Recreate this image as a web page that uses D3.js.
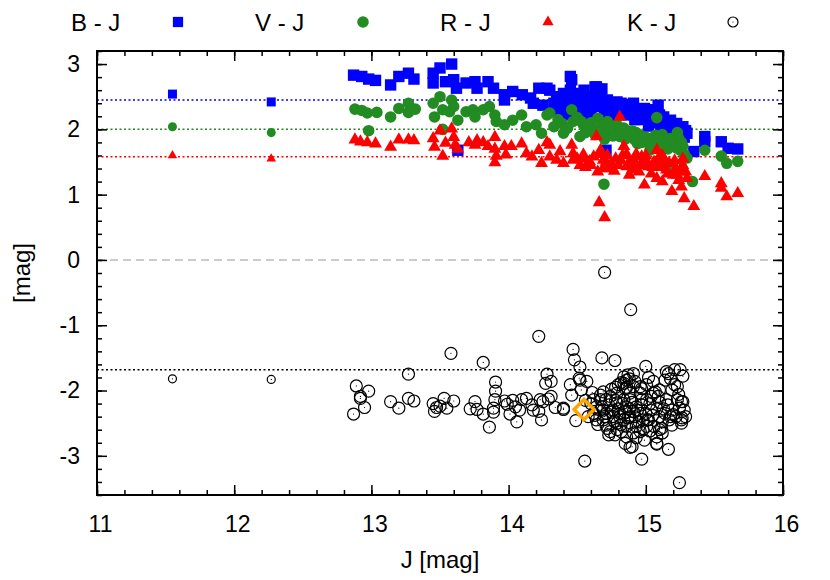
<!DOCTYPE html>
<meta charset="utf-8">
<style>
body { margin: 0; background: #fff; }
text { font-family: "Liberation Sans", Arial, sans-serif; fill: #000; }
</style>
<svg width="830" height="580"></svg>
<script src="https://d3js.org/d3.v7.min.js"></script>
<script>

// two bright reference stars
var refJ  = [11.55, 12.27],
    refBJ = [2.54, 2.42],
    refVJ = [2.04, 1.95],
    refRJ = [1.60, 1.55],
    refKJ = [-1.82, -1.83];

// B - J
var bjJ = [12.87,12.93,12.98,13.03,13.14,13.20,13.27,13.31,13.45,13.45,13.50,13.585,13.54,13.60,13.62,13.69,13.755,13.77,13.85,13.89,
  13.97,13.97,14.03,14.10,14.16,14.22,14.28,14.18,14.25,14.33,13.63,14.30,14.35,14.40,14.46,14.45,14.50,14.545,14.56,14.63,
  14.67,14.69,14.73,14.775,14.84,14.885,14.93,14.98,15.03,15.09,15.13,15.18,15.225,15.27,15.30,15.35,15.43,15.43,15.55,15.60,
  15.67,14.45,14.64,14.71,14.38,14.42,14.48,14.52,14.58,14.60,14.62,14.66,14.70,14.72,14.76,14.80,14.82,14.86,14.90,14.92,
  14.95,15.00,15.02,15.05,15.07,15.11,15.15,15.16,15.20,15.22,15.25,15.28,15.24,14.54,14.58,14.36,14.43,15.08,14.88,14.99,
  14.40,14.47,14.55,14.61,14.65,14.68,14.74,14.79,14.83,14.87,14.91,14.96,15.01,15.04,15.10,15.14,15.19,15.23,15.29];
var bjMag = [2.83,2.81,2.77,2.75,2.68,2.81,2.86,2.77,2.86,2.71,2.94,3.00,2.73,2.76,2.63,2.71,2.73,2.63,2.73,2.63,
  2.53,2.45,2.58,2.53,2.48,2.63,2.63,2.40,2.37,2.40,1.68,2.60,2.45,2.30,2.76,2.60,2.45,2.48,2.35,2.65,
  2.55,2.40,2.25,2.37,2.35,2.30,2.25,2.19,2.14,2.37,2.19,2.14,2.09,2.04,1.94,1.66,1.89,1.81,1.81,1.71,
  1.70,2.81,2.65,1.68,2.50,2.40,2.35,2.55,2.45,2.30,2.50,2.35,2.30,2.45,2.20,2.28,2.40,2.22,2.32,2.15,
  2.28,2.25,2.05,2.20,2.10,2.05,2.10,1.98,2.00,1.92,1.96,1.88,1.80,2.20,2.15,2.28,2.22,2.30,2.38,2.32,
  2.55,2.50,2.60,2.40,2.45,2.62,2.35,2.42,2.25,2.30,2.40,2.15,2.28,2.30,2.22,2.02,2.06,2.00,1.98];

// V - J
var vjJ = [12.88,12.93,12.97,13.04,12.98,13.14,13.20,13.27,13.27,13.32,13.45,13.46,13.50,13.52,13.52,13.585,13.57,13.60,13.63,13.69,
  13.74,13.755,13.815,13.86,13.90,13.91,13.97,14.03,14.095,14.13,14.20,14.24,14.28,14.33,14.30,14.39,14.40,14.46,14.47,14.52,
  14.545,14.605,14.65,14.69,14.74,14.79,14.81,14.87,14.92,14.96,15.02,15.07,15.08,15.14,15.19,15.24,15.27,15.30,15.34,15.43,
  15.55,15.59,15.67,14.695,15.03,15.17,14.36,14.43,14.50,14.56,14.60,14.63,14.67,14.72,14.76,14.78,14.84,14.85,14.90,14.94,
  14.99,15.05,15.10,15.12,15.16,15.21,15.25,15.28,15.23,14.70,14.53,
  14.58,14.62,14.68,14.73,14.77,14.82,14.88,14.93,14.97,15.00,15.04,15.09,15.13,15.18,15.22,15.26];
var vjMag = [2.31,2.29,2.25,2.26,1.98,2.19,2.32,2.40,2.26,2.31,2.40,2.19,2.50,2.30,2.00,2.45,2.27,2.35,2.14,2.27,
  2.30,2.19,2.30,2.35,2.22,2.12,2.07,2.14,2.22,2.04,2.07,1.94,2.22,2.04,2.25,2.09,1.94,2.30,2.12,1.89,
  2.07,1.99,2.17,2.09,1.97,2.07,1.89,1.94,1.84,1.91,1.79,1.91,2.18,1.84,1.76,1.86,1.74,1.56,1.20,1.68,
  1.59,1.48,1.51,1.16,1.68,1.42,2.15,2.02,2.18,1.95,2.10,1.92,2.02,2.12,1.90,2.00,2.02,1.85,1.98,1.78,
  1.86,1.84,1.78,1.92,1.70,1.80,1.68,1.62,1.95,1.85,2.12,
  2.05,2.00,1.95,2.05,1.92,1.98,1.90,1.95,1.80,1.88,1.76,1.85,1.74,1.86,1.72,1.80];

// R - J
var rjJ = [12.88,12.92,12.97,13.03,13.14,13.20,13.27,13.31,13.45,13.46,13.50,13.52,13.54,13.585,13.60,13.61,13.63,13.71,13.755,13.77,
  13.815,13.85,13.90,13.90,13.90,13.91,13.97,13.98,14.02,14.095,14.13,14.17,14.22,14.24,14.28,14.30,14.35,14.30,14.375,14.40,
  14.46,14.47,14.47,14.52,14.545,14.59,14.64,14.65,14.67,14.69,14.66,14.70,14.75,14.81,14.84,14.86,14.91,14.96,14.99,15.02,
  15.08,15.08,15.14,15.15,15.19,15.22,15.25,15.26,15.28,15.30,15.35,15.43,15.55,15.55,15.59,15.67,14.50,14.56,14.62,14.72,
  14.74,14.78,14.80,14.83,14.88,14.90,14.93,14.95,14.98,15.00,15.04,15.06,15.10,15.12,15.17,15.20,15.24,15.27,15.29,14.88,
  15.12,14.69,14.55,14.60,14.66,14.71,14.77,14.82,14.86,14.92,14.97,15.01,15.05,15.09,15.13,15.16,15.21,15.23,15.27];
var rjMag = [1.84,1.81,1.80,1.78,1.73,1.84,1.84,1.83,1.86,1.73,1.98,1.59,1.79,2.01,1.88,1.76,1.70,1.80,1.76,1.83,
  1.80,1.74,1.88,1.70,1.49,1.59,1.74,1.61,1.74,1.78,1.63,1.58,1.68,1.48,1.80,1.58,1.53,1.76,1.66,1.48,
  1.76,1.63,1.53,1.45,1.61,1.51,1.89,1.35,1.68,1.53,0.88,0.65,1.48,2.19,1.74,1.43,1.53,1.45,1.15,1.43,
  1.68,1.25,1.51,1.38,1.05,1.40,1.35,1.12,0.94,1.25,0.82,1.28,1.17,1.10,0.97,1.02,1.55,1.42,1.58,1.60,
  1.40,1.55,1.45,1.60,1.50,1.38,1.62,1.35,1.52,1.60,1.32,1.50,1.42,1.60,1.48,1.30,1.22,1.45,1.35,1.30,
  1.20,1.40,1.55,1.45,1.62,1.50,1.36,1.52,1.62,1.44,1.58,1.50,1.42,1.55,1.45,1.32,1.52,1.30,1.55];

// K - J
var kjJ = [12.87,12.89,12.92,12.92,12.95,12.98,13.14,13.20,13.27,13.27,13.31,13.45,13.46,13.475,13.50,13.53,13.55,13.58,13.60,13.72,
  13.755,13.77,13.815,13.815,13.86,13.89,13.89,13.905,13.905,13.90,13.97,13.99,14.01,14.05,14.06,14.03,14.095,14.08,14.13,14.17,
  14.18,14.22,14.23,14.24,14.22,14.25,14.28,14.27,14.31,14.29,14.31,14.34,14.40,14.45,14.70,14.89,14.47,14.48,14.52,14.68,
  14.775,15.00,14.515,14.46,14.40,14.49,14.555,14.97,15.245,15.165,14.85,14.885,15.08,15.15,15.21,15.25,15.23,15.26,15.26,15.26,
  15.18,15.10,14.57,14.52,14.53,14.62,14.67,14.69,14.71,14.69,14.64,14.71,14.76,14.80,14.84,14.87,14.91,14.85,14.84,14.79,
  14.74,14.775,14.90,14.885,14.93,14.96,14.97,15.005,15.055,15.07,15.09,15.04,15.02,14.96,14.99,15.08,15.115,15.08,15.10,15.14,
  15.15,15.19,15.14,15.165,15.21,15.23,15.27,15.245,15.265,15.19,15.20,14.666,14.715,14.763,14.81,14.86,14.91,14.96,14.98,14.885,
  14.84,14.79,14.86,14.93,15.006,15.04,14.62,14.67,14.74,14.79,14.84,14.86,14.91,14.885,14.96,15.055,15.10,15.006,14.91,14.86,
  14.82,14.79,14.64,14.69,
  14.60,14.63,14.65,14.68,14.70,14.72,14.73,14.75,14.77,14.78,14.80,14.81,14.82,14.83,14.85,14.87,14.88,14.89,14.90,14.92,
  14.94,14.95,14.97,14.98,15.00,15.01,15.03,15.05,15.06,15.08,15.10,15.12,15.13,15.16,15.17,15.19,15.22,15.24,15.28,15.29,
  14.82,14.86,14.88,14.92,14.78,14.75,14.97,15.02,15.18,15.27,14.58,14.56,14.61,14.73,14.93,15.03,15.12];
var kjMag = [-2.36,-1.93,-2.12,-2.09,-2.26,-2.01,-2.17,-2.27,-1.75,-2.12,-2.16,-2.20,-2.32,-2.26,-2.24,-2.12,-2.27,-1.43,-2.16,-2.28,
  -2.17,-2.29,-2.36,-1.57,-2.56,-2.27,-2.33,-1.87,-2.01,-2.14,-2.16,-2.21,-2.36,-2.25,-2.48,-2.15,-2.14,-2.30,-2.12,-2.22,
  -2.30,-2.32,-2.14,-2.45,-1.17,-2.17,-1.75,-1.89,-1.86,-2.13,-2.09,-2.26,-2.29,-1.91,-0.19,-0.76,-1.37,-1.53,-1.64,-1.50,
  -1.54,-1.63,-1.81,-2.07,-2.27,-2.46,-3.08,-3.05,-3.41,-2.90,-2.81,-2.87,-2.82,-1.71,-1.68,-1.68,-1.94,-2.17,-2.45,-2.50,
  -2.40,-2.60,-1.86,-1.84,-1.99,-2.14,-2.07,-2.02,-2.14,-2.30,-2.45,-2.53,-2.30,-1.91,-1.79,-1.76,-1.74,-1.97,-2.14,-2.19,
  -2.63,-2.68,-2.86,-2.40,-2.25,-2.04,-2.14,-1.91,-1.86,-2.02,-2.09,-2.30,-2.45,-2.63,-2.76,-2.71,-2.58,-2.81,-2.40,-2.35,
  -2.14,-1.99,-1.84,-1.74,-1.91,-2.14,-2.17,-2.27,-2.42,-2.53,-2.37,-2.30,-2.35,-2.40,-2.35,-2.25,-2.32,-2.35,-2.45,-2.14,
  -2.45,-2.50,-2.55,-2.55,-2.14,-2.09,-2.35,-2.14,-2.09,-2.04,-1.89,-1.84,-1.94,-2.04,-1.94,-2.04,-1.99,-2.55,-2.65,-2.71,
  -2.63,-2.60,-2.25,-2.45,
  -2.20,-2.38,-2.52,-2.25,-2.40,-2.58,-2.22,-2.33,-2.47,-2.15,-2.28,-2.40,-2.52,-2.20,-2.33,-2.42,-2.28,-2.50,-2.18,-2.40,
  -2.30,-2.48,-2.22,-2.60,-2.35,-2.45,-2.20,-2.38,-2.55,-2.28,-2.18,-2.48,-2.28,-2.22,-2.45,-2.30,-2.40,-2.06,-2.30,-2.40,
  -1.88,-1.95,-1.82,-1.86,-1.95,-1.98,-1.97,-1.80,-1.82,-1.78,-2.40,-2.15,-2.03,-2.68,-2.72,-2.62,-2.65];

// mean colours (horizontal guide lines)
var meanBJ = 2.45, meanVJ = 2.00, meanRJ = 1.58, meanKJ = -1.68;

// highlighted star
var starJ = [14.55], starKJ = [-2.29];

var legendLabels = ["B - J", "V - J", "R - J", "K - J"];
var xTicks = [11, 12, 13, 14, 15, 16],
    yTicks = [-3, -2, -1, 0, 1, 2, 3];

var svg = d3.select("svg"),
    pL = 97, pR = 783, pT = 51, pB = 495;

var x = d3.scaleLinear().domain([11, 16]).range([pL, pR]);
var y = d3.scaleLinear().domain([-3.6, 3.2]).range([pB, pT]);

var minorX = d3.range(11, 16.001, 0.2),
    minorY = d3.range(-3.6, 3.201, 0.2);

// guide lines
function hline(v, color, dash, width) {
  svg.append("line")
    .attr("x1", pL).attr("x2", pR)
    .attr("y1", y(v)).attr("y2", y(v))
    .attr("stroke", color).attr("stroke-width", width)
    .attr("stroke-dasharray", dash);
}
hline(0, "#bbbbbb", "8,5", 1.5);
hline(meanBJ, "#0000ff", "2,2.5", 1.5);
hline(meanVJ, "#228b22", "2,2.5", 1.5);
hline(meanRJ, "#ff0000", "2,2.5", 1.5);
hline(meanKJ, "#000000", "2,2.5", 1.5);

// axes: ticks inward on all sides
function styleAxis(g) {
  g.select(".domain").remove();
  g.selectAll(".tick line").attr("stroke", "#000").attr("stroke-width", 1.5);
  g.selectAll("text").style("font-size", "23px").attr("font-family", null).attr("fill", "#000");
}
var plainNum = function(d) { return String(d); };  // hyphen minus like the original

svg.append("g").attr("transform", "translate(0," + pB + ")")
  .call(d3.axisBottom(x).tickValues(minorX).tickSize(-5).tickFormat(""))
  .call(styleAxis);
svg.append("g").attr("transform", "translate(0," + pB + ")")
  .call(d3.axisBottom(x).tickValues(xTicks).tickSize(-10).tickPadding(21).tickFormat(plainNum))
  .call(styleAxis)
  .selectAll("text").attr("dx", 3);
svg.append("g").attr("transform", "translate(0," + pT + ")")
  .call(d3.axisTop(x).tickValues(minorX).tickSize(-5).tickFormat(""))
  .call(styleAxis);
svg.append("g").attr("transform", "translate(0," + pT + ")")
  .call(d3.axisTop(x).tickValues(xTicks).tickSize(-10).tickFormat(""))
  .call(styleAxis);

svg.append("g").attr("transform", "translate(" + pL + ",0)")
  .call(d3.axisLeft(y).tickValues(minorY).tickSize(-5).tickFormat(""))
  .call(styleAxis);
svg.append("g").attr("transform", "translate(" + pL + ",0)")
  .call(d3.axisLeft(y).tickValues(yTicks).tickSize(-10).tickPadding(17).tickFormat(plainNum))
  .call(styleAxis);
svg.append("g").attr("transform", "translate(" + pR + ",0)")
  .call(d3.axisRight(y).tickValues(minorY).tickSize(-5).tickFormat(""))
  .call(styleAxis);
svg.append("g").attr("transform", "translate(" + pR + ",0)")
  .call(d3.axisRight(y).tickValues(yTicks).tickSize(-10).tickFormat(""))
  .call(styleAxis);

// markers
var shapes = {
  bj: { type: d3.symbolSquare, color: "#0000ff", size: 130, small: 81 },
  vj: { type: d3.symbolCircle, color: "#228b22", size: 105, small: 64 },
  rj: { type: d3.symbolTriangle, color: "#ff0000", size: 72, small: 40 }
};

function plotSeries(js, ms, s, area) {
  svg.append("g").selectAll("path")
    .data(js.map(function(j, i) { return [j, ms[i]]; }))
    .enter().append("path")
      .attr("transform", function(d) { return "translate(" + x(d[0]) + "," + y(d[1]) + ")"; })
      .attr("d", d3.symbol().type(s.type).size(area))
      .attr("fill", s.color);
}

plotSeries(refJ, refBJ, shapes.bj, shapes.bj.small);
plotSeries(bjJ, bjMag, shapes.bj, shapes.bj.size);
plotSeries(refJ, refVJ, shapes.vj, shapes.vj.small);
plotSeries(vjJ, vjMag, shapes.vj, shapes.vj.size);
plotSeries(refJ, refRJ, shapes.rj, shapes.rj.small);
plotSeries(rjJ, rjMag, shapes.rj, shapes.rj.size);

function plotOpen(js, ms, r) {
  var g = svg.append("g");
  var pts = js.map(function(j, i) { return [j, ms[i]]; });
  g.selectAll("circle.o").data(pts).enter().append("circle")
    .attr("class", "o")
    .attr("cx", function(d) { return x(d[0]); })
    .attr("cy", function(d) { return y(d[1]); })
    .attr("r", r)
    .attr("fill", "none").attr("stroke", "#000").attr("stroke-width", 1.2);
  g.selectAll("circle.c").data(pts).enter().append("circle")
    .attr("class", "c")
    .attr("cx", function(d) { return x(d[0]); })
    .attr("cy", function(d) { return y(d[1]); })
    .attr("r", 0.6).attr("fill", "#000");
}
plotOpen(refJ, refKJ, 4);
plotOpen(kjJ, kjMag, 6);

svg.append("g").selectAll("path")
  .data(starJ.map(function(j, i) { return [j, starKJ[i]]; }))
  .enter().append("path")
    .attr("transform", function(d) { return "translate(" + x(d[0]) + "," + y(d[1]) + ")"; })
    .attr("d", "M0,-10L10,0L0,10L-10,0Z")
    .attr("fill", "none").attr("stroke", "#ffa500").attr("stroke-width", 3.5);

// frame
svg.append("rect")
  .attr("x", pL).attr("y", pT)
  .attr("width", pR - pL).attr("height", pB - pT)
  .attr("fill", "none").attr("stroke", "#000").attr("stroke-width", 2);

// axis labels
svg.append("text")
  .attr("x", (pL + pR) / 2).attr("y", 568)
  .attr("text-anchor", "middle").style("font-size", "24px")
  .text("J [mag]");
svg.append("text")
  .attr("transform", "translate(30," + (pT + pB) / 2 + ") rotate(-90)")
  .attr("text-anchor", "middle").style("font-size", "24px")
  .text("[mag]");

// legend
var legX = [71, 255, 440, 627],
    legMarkX = [178, 363, 548, 733];
legendLabels.forEach(function(lab, i) {
  svg.append("text").attr("x", legX[i]).attr("y", 31)
    .style("font-size", "24px").text(lab);
});
[shapes.bj, shapes.vj, shapes.rj].forEach(function(s, i) {
  svg.append("path")
    .attr("transform", "translate(" + legMarkX[i] + ",22)")
    .attr("d", d3.symbol().type(s.type).size(i === 2 ? 55 : 105))
    .attr("fill", s.color);
});
svg.append("circle").attr("cx", legMarkX[3]).attr("cy", 22).attr("r", 5)
  .attr("fill", "none").attr("stroke", "#000").attr("stroke-width", 1.2);
svg.append("circle").attr("cx", legMarkX[3]).attr("cy", 22).attr("r", 0.6).attr("fill", "#000");

</script>
